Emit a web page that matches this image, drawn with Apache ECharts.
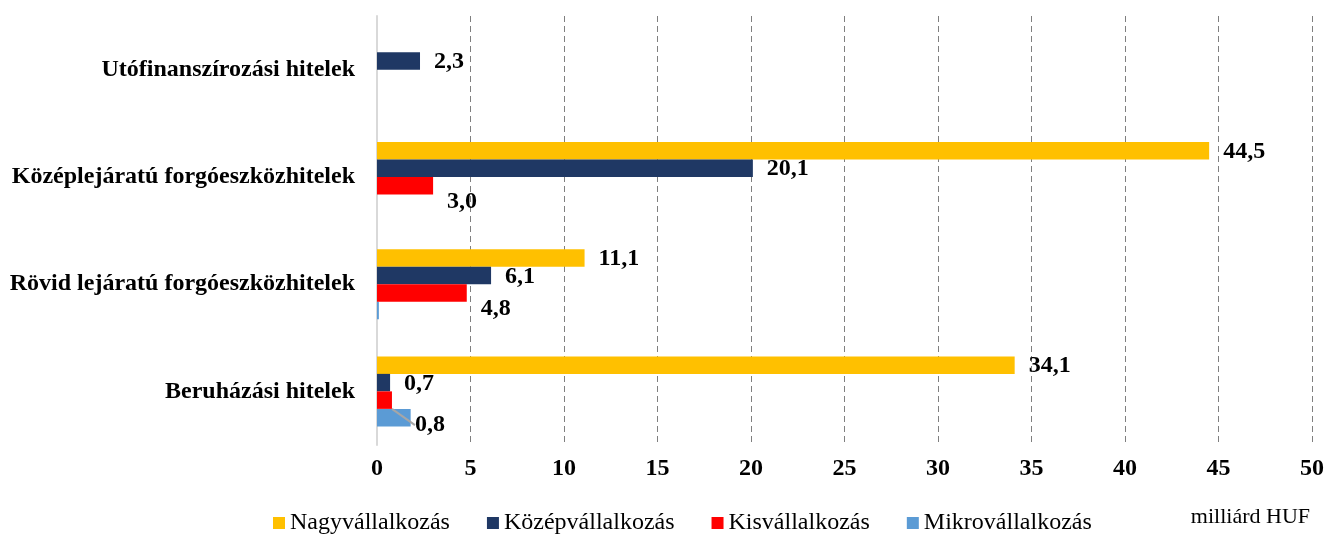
<!DOCTYPE html>
<html>
<head>
<meta charset="utf-8">
<script src="https://cdn.jsdelivr.net/npm/echarts@6/dist/echarts.min.js"></script>
<style>
  html, body { margin: 0; padding: 0; background: #fff; }
  #chart { width: 1327px; height: 535px; }
</style>
</head>
<body>
<div id="chart"></div>
<script>
// adatok (felülről lefelé)
const categories = ['Utófinanszírozási hitelek', 'Középlejáratú forgóeszközhitelek', 'Rövid lejáratú forgóeszközhitelek', 'Beruházási hitelek'];
const nagy = [null, 44.5, 11.1, 34.1];
const kozep = [2.3, 20.1, 6.1, 0.7];
const kis = [null, 3.0, 4.8, 0.8];
const mikro = [null, null, 0.1, 1.8];
const xTicks = [0, 5, 10, 15, 20, 25, 30, 35, 40, 45, 50];

const font = '"Liberation Serif", "Times New Roman", serif';
const fmt = function (p) { return p.value == null ? '' : p.value.toFixed(1).replace('.', ','); };
const valueLabel = { show: true, position: 'right', distance: 14, offset: [0, 1], formatter: fmt, fontFamily: font, fontWeight: 'bold', fontSize: 24, color: '#000' };

// a beruházási hitelek kisvállalkozási címkéje vezetővonallal
const kisData = kis.map(function (v, i) {
    if (i === 3) return { value: v, labelLine: { show: true, lineStyle: { color: '#a6a6a6', width: 2 } } };
    return v;
});

const chart = echarts.init(document.getElementById('chart'));
chart.setOption({
    animation: false,
    grid: { left: 377, right: 15, top: 16, bottom: 90, containLabel: false },
    legend: {
        data: ['Nagyvállalkozás', 'Középvállalkozás', 'Kisvállalkozás', 'Mikrovállalkozás'],
        left: 268,
        top: 506,
        icon: 'rect',
        itemWidth: 12,
        itemHeight: 12,
        itemGap: 37,
        textStyle: { fontFamily: font, fontSize: 24, color: '#000' }
    },
    graphic: [{
        type: 'text', right: 17, top: 506,
        style: { text: 'milliárd HUF', font: '22px ' + font, fill: '#000' }
    }],
    xAxis: {
        type: 'value',
        min: xTicks[0],
        max: xTicks[xTicks.length - 1],
        interval: 5,
        axisLine: { show: false },
        axisTick: { show: false },
        axisLabel: { fontFamily: font, fontWeight: 'bold', fontSize: 24, color: '#000', margin: 12 },
        splitLine: { show: true, lineStyle: { color: '#7f7f7f', type: [6, 4], width: 1 } }
    },
    yAxis: {
        type: 'category',
        inverse: true,
        data: categories,
        axisLine: { show: true, lineStyle: { color: '#d9d9d9', width: 2 } },
        axisTick: { show: false },
        axisLabel: { fontFamily: font, fontWeight: 'bold', fontSize: 24, color: '#000', margin: 22 }
    },
    series: [
        {
            name: 'Nagyvállalkozás', type: 'bar', data: nagy, barWidth: 17.5, barGap: '0%',
            itemStyle: { color: '#FFC000' }, label: valueLabel
        },
        {
            name: 'Középvállalkozás', type: 'bar', data: kozep, barWidth: 17.5, barGap: '0%',
            itemStyle: { color: '#1F3864' }, label: valueLabel
        },
        {
            name: 'Kisvállalkozás', type: 'bar', data: kisData, barWidth: 17.5, barGap: '0%', z: 3,
            itemStyle: { color: '#FF0000' },
            label: valueLabel,
            labelLayout: function (p) {
                if (p.dataIndex === 3) return { dx: 9, dy: 25 };
                return { dy: 16 };
            },
            labelLine: { show: false }
        },
        {
            name: 'Mikrovállalkozás', type: 'bar', data: mikro, barWidth: 17.5, barGap: '0%',
            itemStyle: { color: '#5B9BD5' }
        }
    ]
});
</script>
</body>
</html>
